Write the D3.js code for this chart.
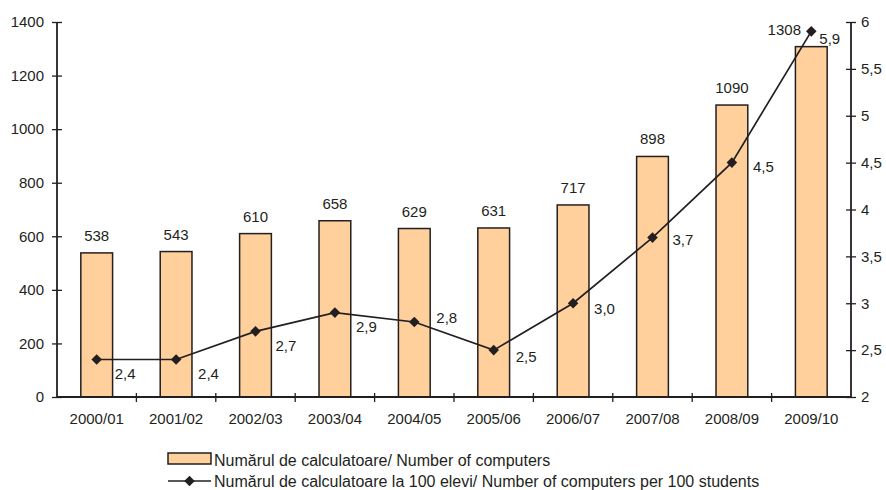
<!DOCTYPE html>
<html>
<head>
<meta charset="utf-8">
<script src="https://cdn.jsdelivr.net/npm/d3@7"></script>
<style>
  body { margin: 0; background: #fff; }
  text { font-family: "Liberation Sans", Arial, sans-serif; fill: #231f20; }
</style>
</head>
<body>
<svg id="chart" width="886" height="490"></svg>
<script>
const years = ["2000/01", "2001/02", "2002/03", "2003/04", "2004/05", "2005/06", "2006/07", "2007/08", "2008/09", "2009/10"];
const computers = [538, 543, 610, 658, 629, 631, 717, 898, 1090, 1308];
const perStudents = [2.4, 2.4, 2.7, 2.9, 2.8, 2.5, 3.0, 3.7, 4.5, 5.9];
const leftTicks = [0, 200, 400, 600, 800, 1000, 1200, 1400];
const rightTicks = [2, 2.5, 3, 3.5, 4, 4.5, 5, 5.5, 6];

const barLabel = "Numărul de calculatoare/ Number of computers";
const lineLabel = "Numărul de calculatoare la 100 elevi/ Number of computers per 100 students";

// label nudges for the line values (dx, dy from the marker)
const lineLabelNudge = [[18, 14], [22, 14], [20, 14], [21, 14], [22, -4], [22, 7], [21, 5], [20, 2], [21, 4], [8, 7]];

const INK = "#231f20";
const BAR = "#ffd09b";
const FONT = 15;
const LEGEND_FONT = 16;

const svg = d3.select("#chart");

const plotLeft = 57, plotRight = 851, plotTop = 22, plotBottom = 397;

const x = d3.scaleBand().domain(years).range([plotLeft, plotRight]).paddingInner(0.6).paddingOuter(0.3);
const yL = d3.scaleLinear().domain([0, 1400]).range([plotBottom, plotTop]);
const yR = d3.scaleLinear().domain([2, 6]).range([plotBottom, plotTop]);
const cx = (d) => x(d) + x.bandwidth() / 2;

// bars
svg.append("g")
  .selectAll("rect")
  .data(computers)
  .enter()
  .append("rect")
  .attr("x", (d, i) => x(years[i]))
  .attr("y", (d) => yL(d))
  .attr("width", x.bandwidth())
  .attr("height", (d) => plotBottom - yL(d))
  .attr("fill", BAR)
  .attr("stroke", INK)
  .attr("stroke-width", 1.5);

// bar value labels (the last one is pushed left, off the marker)
svg.append("g")
  .selectAll("text")
  .data(computers)
  .enter()
  .append("text")
  .attr("x", (d, i) => cx(years[i]) - (i === years.length - 1 ? 27 : 0))
  .attr("y", (d) => yL(d) - 12)
  .attr("text-anchor", "middle")
  .attr("font-size", FONT)
  .text((d) => d);

// axes
const leftAxis = svg.append("g").attr("transform", `translate(${plotLeft},0)`)
  .call(d3.axisLeft(yL).tickValues(leftTicks).tickSize(5).tickPadding(8).tickFormat(d3.format("d")));
leftAxis.selectAll(".tick line").attr("x2", 5).attr("x1", -5);

const rightAxis = svg.append("g").attr("transform", `translate(${plotRight},0)`)
  .call(d3.axisRight(yR).tickValues(rightTicks).tickSize(5).tickPadding(5)
    .tickFormat((d) => String(d).replace(".", ",")));
rightAxis.selectAll(".tick line").attr("x1", -5).attr("x2", 5);

const bottomAxis = svg.append("g").attr("transform", `translate(0,${plotBottom})`)
  .call(d3.axisBottom(x).tickSize(0).tickPadding(16));

// category separator ticks
svg.append("g")
  .selectAll("line")
  .data(years.slice(1))
  .enter()
  .append("line")
  .attr("x1", (d) => x(d) - x.step() * x.paddingInner() / 2)
  .attr("x2", (d) => x(d) - x.step() * x.paddingInner() / 2)
  .attr("y1", plotBottom - 4)
  .attr("y2", plotBottom + 5)
  .attr("stroke", INK)
  .attr("stroke-width", 1.3);

[leftAxis, rightAxis, bottomAxis].forEach((g) => {
  g.selectAll(".domain").attr("stroke", INK).attr("stroke-width", 1.8);
  g.selectAll(".tick line").attr("stroke", INK).attr("stroke-width", 1.3);
  g.selectAll("text").attr("font-size", FONT).attr("font-family", "Liberation Sans, Arial, sans-serif").attr("fill", INK);
});
leftAxis.select(".domain").attr("d", `M0,${plotBottom}V${plotTop}`);
rightAxis.select(".domain").attr("d", `M0,${plotBottom}V${plotTop}`);
bottomAxis.select(".domain").attr("d", `M${plotLeft},0H${plotRight}`);

// line
const line = d3.line()
  .x((d, i) => cx(years[i]))
  .y((d) => yR(d));

svg.append("path")
  .datum(perStudents)
  .attr("d", line)
  .attr("fill", "none")
  .attr("stroke", INK)
  .attr("stroke-width", 1.7);

const diamond = d3.symbol().type(d3.symbolSquare).size(56);

svg.append("g")
  .selectAll("path")
  .data(perStudents)
  .enter()
  .append("path")
  .attr("d", diamond)
  .attr("transform", (d, i) => `translate(${cx(years[i])},${yR(d)}) rotate(45)`)
  .attr("fill", INK);

svg.append("g")
  .selectAll("text")
  .data(perStudents)
  .enter()
  .append("text")
  .attr("x", (d, i) => cx(years[i]) + lineLabelNudge[i][0])
  .attr("y", (d, i) => yR(d) + lineLabelNudge[i][1])
  .attr("dy", "0.35em")
  .attr("font-size", FONT)
  .text((d) => d.toFixed(1).replace(".", ","));

// legend
const legend = svg.append("g");
legend.append("rect")
  .attr("x", 168).attr("y", 453).attr("width", 43).attr("height", 11)
  .attr("fill", BAR).attr("stroke", INK).attr("stroke-width", 1.5);
legend.append("text")
  .attr("x", 214).attr("y", 460).attr("dy", "0.35em").attr("font-size", LEGEND_FONT)
  .text(barLabel);
legend.append("line")
  .attr("x1", 168).attr("x2", 211).attr("y1", 481).attr("y2", 481)
  .attr("stroke", INK).attr("stroke-width", 1.7);
legend.append("path")
  .attr("d", diamond)
  .attr("transform", "translate(189.5,481) rotate(45)")
  .attr("fill", INK);
legend.append("text")
  .attr("x", 214).attr("y", 481).attr("dy", "0.35em").attr("font-size", LEGEND_FONT)
  .text(lineLabel);
</script>
</body>
</html>
